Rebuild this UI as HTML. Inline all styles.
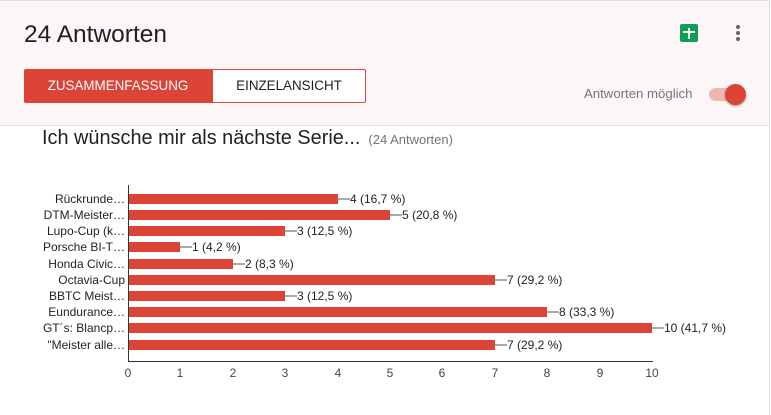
<!DOCTYPE html>
<html><head><meta charset="utf-8"><style>
body{margin:0;width:771px;height:415px;overflow:hidden;background:#fff;font-family:"Liberation Sans",sans-serif;position:relative}
.hdr{position:absolute;left:0;top:0;width:769px;height:124px;background:#fcf7f6;border-top:1px solid #e0e0e0;border-right:1px solid #e0e0e0;border-bottom:1px solid #e0e0e0}
.t{position:absolute;left:24px;top:21px;font-size:24.5px;color:#212121}
.b1{position:absolute;left:24px;top:69px;width:188px;height:34px;background:#db4437;color:#fff;font-size:13.4px;line-height:34px;text-align:center;border-radius:2px 0 0 2px}
.b2{position:absolute;left:212px;top:69px;width:152px;height:32px;border:1px solid #db4437;background:#fff;color:#212121;font-size:13.4px;line-height:32px;text-align:center;border-radius:0 2px 2px 0}
.am{position:absolute;left:584px;top:86px;font-size:13.2px;color:#757575}
.tr{position:absolute;left:709px;top:88px;width:30px;height:13px;background:#f0b7b1;border-radius:7px}
.kn{position:absolute;left:725px;top:84px;width:21px;height:21px;background:#db4437;border-radius:50%;box-shadow:0 1px 2px rgba(0,0,0,.4)}
.sh{position:absolute;left:680px;top:24px;width:18px;height:18px;background:#0f9d58;border-radius:2px}
.dot{position:absolute;left:736px;width:4px;height:4px;border-radius:50%;background:#666}
.q{position:absolute;left:42px;top:127px;font-size:19.9px;color:#212121}
.q span{font-size:13px;color:#757575;margin-left:8px}
.rb{position:absolute;left:769px;top:124px;width:1px;height:291px;background:#e0e0e0}
</style></head><body>
<div class="hdr"></div>
<div class="t">24 Antworten</div>
<div class="sh"><div style="position:absolute;left:3px;top:7px;width:12px;height:2px;background:#fff"></div><div style="position:absolute;left:8px;top:4px;width:2px;height:11px;background:#fff"></div></div>
<div class="dot" style="top:25px"></div><div class="dot" style="top:31px"></div><div class="dot" style="top:37px"></div>
<div class="b1">ZUSAMMENFASSUNG</div>
<div class="b2">EINZELANSICHT</div>
<div class="am">Antworten möglich</div>
<div class="tr"></div><div class="kn"></div>
<div class="q">Ich wünsche mir als nächste Serie...<span>(24 Antworten)</span></div>
<div class="rb"></div>
<svg style="position:absolute;left:0;top:0" width="771" height="415" font-family="Liberation Sans, sans-serif" font-size="12" fill="#222">
<g fill="#db4437">
<rect x="128" y="194" width="210" height="10"/>
<rect x="128" y="210" width="262" height="10"/>
<rect x="128" y="226" width="157" height="10"/>
<rect x="128" y="242" width="52" height="10"/>
<rect x="128" y="259" width="105" height="10"/>
<rect x="128" y="275" width="367" height="10"/>
<rect x="128" y="291" width="157" height="10"/>
<rect x="128" y="307" width="419" height="10"/>
<rect x="128" y="323" width="524" height="10"/>
<rect x="128" y="340" width="367" height="10"/>
</g>
<g stroke="#555" stroke-width="1">
<line x1="338" y1="199" x2="350" y2="199"/><line x1="390" y1="215" x2="402" y2="215"/>
<line x1="285" y1="231" x2="297" y2="231"/><line x1="180" y1="247" x2="192" y2="247"/>
<line x1="233" y1="264" x2="245" y2="264"/><line x1="495" y1="280" x2="507" y2="280"/>
<line x1="285" y1="296" x2="297" y2="296"/><line x1="547" y1="312" x2="559" y2="312"/>
<line x1="652" y1="328" x2="664" y2="328"/><line x1="495" y1="345" x2="507" y2="345"/>
</g>
<g>
<text x="350" y="203">4 (16,7 %)</text><text x="402" y="219">5 (20,8 %)</text>
<text x="297" y="235">3 (12,5 %)</text><text x="192" y="251">1 (4,2 %)</text>
<text x="245" y="268">2 (8,3 %)</text><text x="507" y="284">7 (29,2 %)</text>
<text x="297" y="300">3 (12,5 %)</text><text x="559" y="316">8 (33,3 %)</text>
<text x="664" y="332">10 (41,7 %)</text><text x="507" y="349">7 (29,2 %)</text>
</g>
<g text-anchor="end">
<text x="125" y="203">Rückrunde…</text><text x="125" y="219">DTM-Meister…</text>
<text x="125" y="235">Lupo-Cup (k…</text><text x="125" y="251">Porsche BI-T…</text>
<text x="125" y="268">Honda Civic…</text><text x="125" y="284">Octavia-Cup</text>
<text x="125" y="300">BBTC Meist…</text><text x="125" y="316">Eundurance…</text>
<text x="125" y="332">GT´s: Blancp…</text><text x="125" y="349">"Meister alle…</text>
</g>
<line x1="128.5" y1="185" x2="128.5" y2="361" stroke="#333"/>
<line x1="128" y1="361.5" x2="653" y2="361.5" stroke="#333"/>
<g text-anchor="middle" fill="#444">
<text x="128" y="377">0</text><text x="180" y="377">1</text><text x="233" y="377">2</text>
<text x="285" y="377">3</text><text x="338" y="377">4</text><text x="390" y="377">5</text>
<text x="442" y="377">6</text><text x="495" y="377">7</text><text x="547" y="377">8</text>
<text x="600" y="377">9</text><text x="652" y="377">10</text>
</g>
</svg>
</body></html>
